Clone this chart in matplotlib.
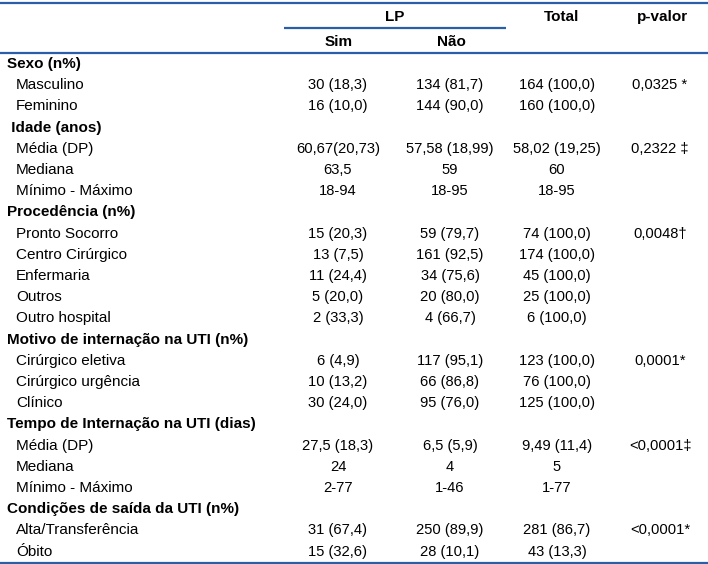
import matplotlib
matplotlib.use('Agg')
import matplotlib.pyplot as plt
from matplotlib import font_manager

# pick a narrow font if one is there
names = {f.name for f in font_manager.fontManager.ttflist}
fam = 'Liberation Sans Narrow' if 'Liberation Sans Narrow' in names else 'Liberation Sans'
plt.rcParams['font.family'] = [fam, 'DejaVu Sans']

## data
labels = ['Sexo (n%)', 'Masculino', 'Feminino',
          ' Idade (anos)', 'Média (DP)', 'Mediana', 'Mínimo - Máximo',
          'Procedência (n%)', 'Pronto Socorro', 'Centro Cirúrgico', 'Enfermaria', 'Outros', 'Outro hospital',
          'Motivo de internação na UTI (n%)', 'Cirúrgico eletiva', 'Cirúrgico urgência', 'Clínico',
          'Tempo de Internação na UTI (dias)', 'Média (DP)', 'Mediana', 'Mínimo - Máximo',
          'Condições de saída da UTI (n%)', 'Alta/Transferência', 'Óbito']
is_group = [1, 0, 0, 1, 0, 0, 0, 1, 0, 0, 0, 0, 0, 1, 0, 0, 0, 1, 0, 0, 0, 1, 0, 0]
sim = ['', '30 (18,3)', '16 (10,0)', '', '60,67(20,73)', '63,5', '18-94',
       '', '15 (20,3)', '13 (7,5)', '11 (24,4)', '5 (20,0)', '2 (33,3)',
       '', '6 (4,9)', '10 (13,2)', '30 (24,0)',
       '', '27,5 (18,3)', '24', '2-77', '', '31 (67,4)', '15 (32,6)']
nao = ['', '134 (81,7)', '144 (90,0)', '', '57,58 (18,99)', '59', '18-95',
       '', '59 (79,7)', '161 (92,5)', '34 (75,6)', '20 (80,0)', '4 (66,7)',
       '', '117 (95,1)', '66 (86,8)', '95 (76,0)',
       '', '6,5 (5,9)', '4', '1-46', '', '250 (89,9)', '28 (10,1)']
total = ['', '164 (100,0)', '160 (100,0)', '', '58,02 (19,25)', '60', '18-95',
         '', '74 (100,0)', '174 (100,0)', '45 (100,0)', '25 (100,0)', '6 (100,0)',
         '', '123 (100,0)', '76 (100,0)', '125 (100,0)',
         '', '9,49 (11,4)', '5', '1-77', '', '281 (86,7)', '43 (13,3)']
pval = ['', '0,0325 *', '', '', '0,2322 \u2021', '', '',
        '', '0,0048\u2020', '', '', '', '',
        '', '0,0001*', '', '',
        '', '<0,0001\u2021', '', '', '', '<0,0001*', '']

W, H = 708, 564
fig = plt.figure(figsize=(W / 100, H / 100), dpi=100)
ax = fig.add_axes([0, 0, 1, 1])
ax.set_xlim(0, W)
ax.set_ylim(H, 0)
ax.axis('off')

blue = '#2b5ea8'
fs_lab = 11
fs_num = 10.6
col_x = [338, 450, 557, 660]

# header
ax.text(395, 17, 'LP', ha='center', va='center', fontsize=fs_lab, fontweight='bold')
ax.text(562, 17, 'Total', ha='center', va='center', fontsize=fs_lab, fontweight='bold')
ax.text(662, 17, 'p-valor', ha='center', va='center', fontsize=fs_lab, fontweight='bold')
ax.text(339, 42, 'Sim', ha='center', va='center', fontsize=fs_lab, fontweight='bold')
ax.text(451, 42, 'Não', ha='center', va='center', fontsize=fs_lab, fontweight='bold')

# rules
ax.plot([0, W], [3, 3], color=blue, lw=1.6, solid_capstyle='butt')
ax.plot([284, 506], [27.5, 27.5], color=blue, lw=1.6, solid_capstyle='butt')
ax.plot([0, W], [52.5, 52.5], color=blue, lw=1.6, solid_capstyle='butt')
ax.plot([0, W], [563, 563], color=blue, lw=1.6, solid_capstyle='butt')

# body
for i, lab in enumerate(labels):
    y = 64 + 21.2 * i
    if is_group[i]:
        ax.text(7, y, lab, ha='left', va='center', fontsize=fs_lab, fontweight='bold')
    else:
        ax.text(16, y, lab, ha='left', va='center', fontsize=fs_lab)
    for x, col in zip(col_x, [sim, nao, total, pval]):
        if col[i]:
            ax.text(x, y, col[i], ha='center', va='center', fontsize=fs_num)

fig.savefig('out.png', dpi=100)
